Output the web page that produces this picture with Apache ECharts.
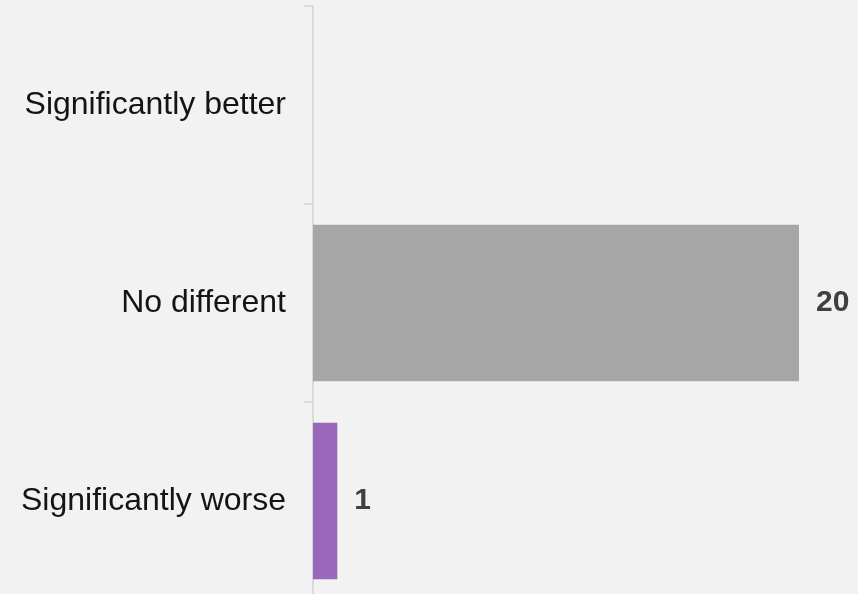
<!DOCTYPE html>
<html><head><meta charset="utf-8">
<script src="https://cdn.jsdelivr.net/npm/echarts@6/dist/echarts.min.js"></script>
<style>html,body{margin:0;padding:0;background:#f2f2f2}#c{width:858px;height:594px}</style>
</head><body><div id="c"></div>
<script>
const categories = ["Significantly better", "No different", "Significantly worse"];
const values = [0, 20, 1];
const colors = ["#a6a6a6", "#a6a6a6", "#9a68ba"];

const chart = echarts.init(document.getElementById('c'), null, {renderer: 'canvas'});
chart.setOption({
  backgroundColor: '#f2f2f2',
  animation: false,
  grid: {left: 313, top: 6, width: 486, height: 594, containLabel: false, outerBoundsMode: 'none'},
  xAxis: {type: 'value', min: 0, max: 20, show: false, splitLine: {show: false}},
  yAxis: {
    type: 'category', data: categories, inverse: true,
    axisLine: {show: true, lineStyle: {color: '#d9d9d9', width: 2}},
    axisTick: {show: true, length: 9, lineStyle: {color: '#d9d9d9', width: 2}},
    axisLabel: {fontFamily: 'Liberation Sans, Arial', fontSize: 32, color: '#141414', margin: 27}
  },
  series: [{
    type: 'bar',
    data: values.map((v, i) => ({value: v, itemStyle: {color: colors[i]}, label: {show: v > 0}})),
    barCategoryGap: '21%',
    label: {position: 'right', distance: 17, fontFamily: 'Liberation Sans, Arial', fontSize: 30, fontWeight: 'bold', color: '#404040'}
  }]
});
</script></body></html>
